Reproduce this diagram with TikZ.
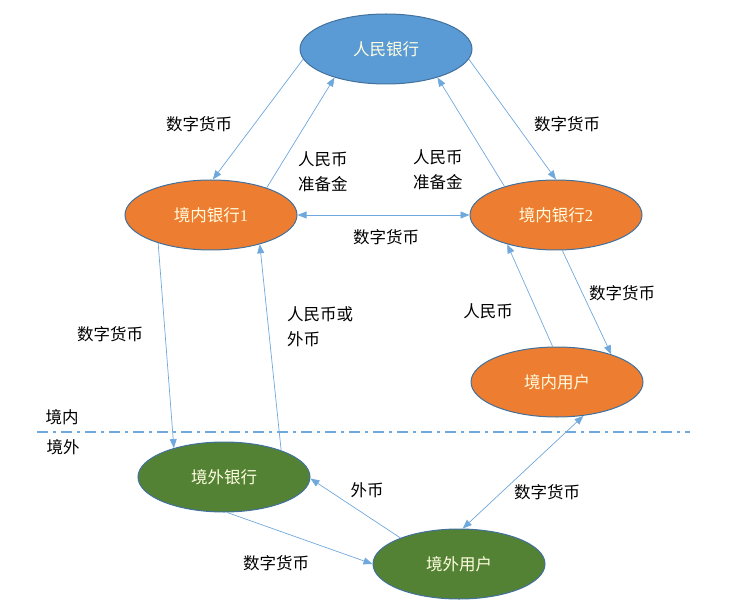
\documentclass[tikz,border=0pt]{standalone}
\usepackage{fontspec}
\setmainfont{Liberation Serif}
\newfontfamily\cjk{Noto Sans CJK SC}
\usetikzlibrary{arrows.meta,shapes.geometric}
\definecolor{cblue}{HTML}{5B9BD5}
\definecolor{corange}{HTML}{ED7D31}
\definecolor{cgreen}{HTML}{548235}
\definecolor{cedge}{HTML}{41719C}
\definecolor{cline}{HTML}{6FA8DC}
\begin{document}
\begin{tikzpicture}[x=1pt,y=-1pt,
  ell/.style={ellipse,draw=cedge,line width=1pt,minimum width=172pt,minimum height=70pt,
    text=white!88!yellow,font=\cjk\fontsize{16.5}{20}\selectfont,inner sep=0pt},
  conn/.style={draw=cline,line width=0.7pt,-{Triangle[length=9pt,width=7pt]}},
  bconn/.style={draw=cline,line width=0.7pt,{Triangle[length=9pt,width=7pt]}-{Triangle[length=9pt,width=7pt]}},
  lbl/.style={font=\cjk\fontsize{16.5}{25}\selectfont,text=black,inner sep=0pt,align=left}]
\useasboundingbox (0,0) rectangle (743,609);
\node[ell,fill=cblue] (pboc) at (386,49) {人民银行};
\node[ell,fill=corange] (b1) at (211,215) {境内银行{\rmfamily 1}};
\node[ell,fill=corange] (b2) at (556,215) {境内银行{\rmfamily 2}};
\node[ell,fill=corange] (du) at (557,382) {境内用户};
\node[ell,fill=cgreen] (fb) at (224,477) {境外银行};
\node[ell,fill=cgreen] (fu) at (459,564) {境外用户};
% connectors
\draw[conn] (pboc.187) -- (b1.87);
\draw[conn] (b1.26) -- (pboc.209);
\draw[conn] (pboc.-7) -- (b2.90);
\draw[conn] (b2.151) -- (pboc.-29);
\draw[bconn] (b1.east) -- (b2.west);
\draw[conn] (b1.208) -- (fb.150);
\draw[conn] (fb.25) -- (b1.-31);
\draw[conn] (du.97) -- (b2.211);
\draw[conn] (b2.-80) -- (du.27);
\draw[bconn] (du.-52) -- (fu.84);
\draw[conn] (fu.156) -- (fb.-1);
\draw[conn] (fb.-85) -- (fu.180);
% labels
\node[lbl] (l1) at (199,124) {数字货币};
\node[lbl,anchor=west] (l2) at (298,172) {人民币\\准备金};
\node[lbl,anchor=west] (l3) at (413,170) {人民币\\准备金};
\node[lbl] (l4) at (567,124) {数字货币};
\node[lbl] (l5) at (386,237) {数字货币};
\node[lbl] (l6) at (110,334) {数字货币};
\node[lbl,anchor=west] (l7) at (287,327) {人民币或\\外币};
\node[lbl] (l8) at (488,311) {人民币};
\node[lbl] (l9) at (622,293) {数字货币};
\node[lbl] (l10) at (367,490) {外币};
\node[lbl] (l11) at (547,492) {数字货币};
\node[lbl] (l12) at (276,563) {数字货币};
\node[lbl] (in) at (62,417) {境内};
\node[lbl] (out) at (63,447) {境外};
% border line
\coordinate (bl) at (37,432);
\coordinate (br) at (690,432);
\draw[cline,line width=2.2pt,dash pattern=on 11pt off 5pt on 3pt off 5pt] (bl) -- (br);
\end{tikzpicture}
\end{document}
